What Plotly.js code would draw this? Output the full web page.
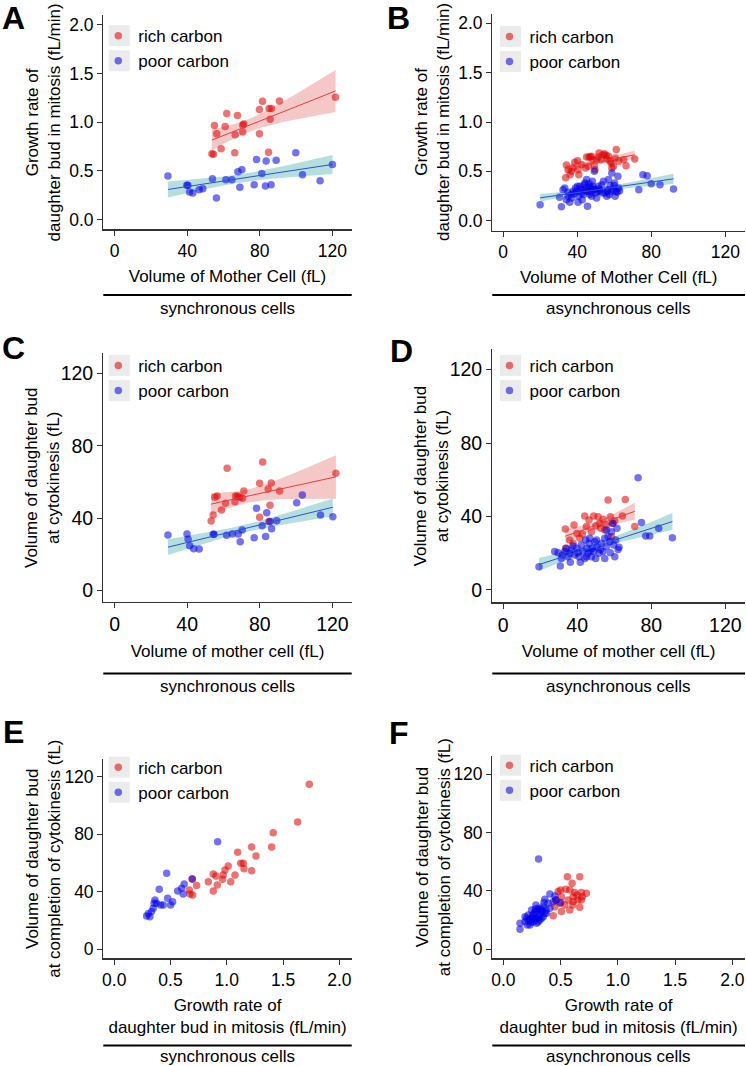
<!DOCTYPE html>
<html><head><meta charset="utf-8">
<script src="https://cdn.plot.ly/plotly-3.0.1.min.js"></script>
<style>html,body{margin:0;padding:0;background:#fff}</style>
</head><body><div id="chart" style="width:746px;height:1066px"></div>
<script>
// ---------------- DATA ----------------
const groupNames = ['rich carbon', 'poor carbon'];
const captions = ['synchronous cells', 'asynchronous cells'];
const volTicks = [0, 40, 80, 120];
const rateTicks = [0, 0.5, 1, 1.5, 2];
const budTicks = [0, 40, 80, 120];

// Panel A: growth rate of bud in mitosis vs mother volume (synchronous)
const aRichVol  = [55.0,56.3,61.8,60.9,67.7,66.4,70.6,71.2,70.6,81.5,79.8,85.1,86.4,85.7,79.8,90.8,53.6,54.5,58.7,66.2,84.8,121.7];
const aRichRate = [0.965,0.88,1.09,0.955,1.067,0.87,0.97,0.98,0.90,1.214,1.13,1.14,1.14,1.03,0.88,1.217,0.675,0.67,0.726,0.685,0.69,1.255];
const aPoorVol  = [29.4,39.8,40.4,41.3,43.1,46.6,48.6,53.9,56.1,61.3,64.6,67.9,69.0,70.1,76.9,78.2,81.1,83.1,83.5,86.2,89.0,99.8,103.5,113.2,120.0];
const aPoorRate = [0.447,0.351,0.351,0.283,0.273,0.307,0.317,0.419,0.222,0.409,0.409,0.491,0.331,0.511,0.358,0.617,0.474,0.344,0.600,0.358,0.610,0.685,0.460,0.399,0.566];

// Panel B: same, asynchronous
const bRichVol  = [33.8,34.2,35.1,36.2,36.9,37.8,38.7,40.2,40.9,40.5,42.4,44.5,45.1,46.0,46.4,47.1,47.8,48.4,49.3,49.6,50.5,51.5,51.8,52.9,53.8,54.7,55.6,56.0,56.9,57.8,58.4,58.7,59.6,60.5,61.1,62.4,65.1,66.4,71.1];
const bRichRate = [0.436,0.564,0.517,0.466,0.50,0.534,0.591,0.608,0.466,0.517,0.568,0.534,0.645,0.551,0.645,0.645,0.652,0.618,0.557,0.517,0.618,0.645,0.686,0.618,0.669,0.679,0.662,0.625,0.652,0.601,0.584,0.534,0.551,0.635,0.72,0.601,0.618,0.557,0.625];
const bPoorVol  = [20.0,30.5,31.5,32.4,33.3,34.2,35.1,36.0,36.9,37.8,38.7,39.6,40.2,40.5,40.9,41.5,42.4,42.7,43.3,43.8,44.2,44.7,45.1,45.6,46.0,46.4,46.9,47.5,47.8,48.2,48.7,49.3,50.0,50.5,51.1,51.5,52.4,53.3,54.2,55.1,56.0,56.5,56.9,57.8,58.4,58.7,59.6,60.2,60.5,60.9,62.0,62.4,62.9,73.3,75.5,77.8,80.0,84.7,92.0,35.1,37.1,39.1,41.8,43.5,45.3,46.5,47.3,48.5,49.6,52.0,53.6,56.2,57.3,59.8,61.6];
const bPoorRate = [0.162,0.236,0.142,0.314,0.331,0.213,0.287,0.186,0.264,0.297,0.274,0.297,0.348,0.186,0.247,0.348,0.280,0.213,0.314,0.365,0.382,0.297,0.416,0.145,0.297,0.348,0.264,0.331,0.247,0.399,0.314,0.500,0.280,0.230,0.297,0.348,0.297,0.365,0.399,0.280,0.247,0.314,0.416,0.355,0.297,0.483,0.314,0.382,0.247,0.297,0.449,0.331,0.304,0.314,0.466,0.456,0.375,0.365,0.321,0.247,0.230,0.331,0.321,0.264,0.341,0.375,0.287,0.348,0.321,0.321,0.280,0.297,0.264,0.355,0.287];

// Panel C: bud volume at cytokinesis vs mother volume (synchronous)
const cRichVol = [53.2,54.3,55.2,56.5,58.9,61.1,62.0,66.3,66.6,67.7,69.0,70.5,71.2,79.9,79.9,81.6,84.6,85.6,85.0,86.3,90.9,121.9];
const cRichBud = [38.3,41.7,51.5,52.2,44.4,48.1,67.5,49.0,52.2,52.2,51.5,50.9,54.9,59.2,40.4,71.0,56.0,47.0,38.0,59.4,54.9,64.7];
const cPoorVol = [29.4,39.9,40.5,41.4,43.6,46.6,54.3,54.8,61.7,64.8,68.1,69.2,70.3,76.9,78.2,81.3,83.2,83.8,85.6,86.5,89.3,100.3,103.4,113.4,120.2];
const cPoorBud = [30.6,31.1,28.2,24.7,23.0,22.8,31.0,31.0,30.4,31.1,31.1,26.9,33.4,29.1,45.4,35.7,29.7,42.9,38.0,34.1,38.5,48.5,52.7,41.7,40.7];

// Panel D: same, asynchronous
const dRichVol = [33.6,36.0,38.3,39.9,41.4,44.1,45.0,46.4,47.7,48.9,50.0,51.3,52.2,52.7,54.0,54.9,56.7,57.9,58.5,59.4,60.3,64.4,66.0,71.1,33.8,37.8,42.8,55.8];
const dRichBud = [33.2,27.2,35.4,30.8,28.1,40.3,34.5,38.1,31.7,40.3,34.8,39.9,36.3,33.6,38.5,32.7,49.0,39.9,29.0,36.3,37.7,40.3,49.3,34.5,22.7,25.4,30.5,35.4];
const dPoorVol = [19.4,29.7,30.9,31.5,33.3,35.1,36.3,36.9,37.8,38.7,39.9,41.0,41.7,42.3,43.2,44.1,44.6,45.3,45.9,46.4,46.8,47.7,48.2,48.9,49.5,50.0,50.7,51.8,53.1,54.0,54.9,55.8,56.7,57.6,58.5,59.0,59.7,60.3,60.8,61.5,62.1,62.6,74.7,72.9,77.0,79.2,84.0,91.4,27.9,32.0,34.2,36.0,40.5,45.0,47.1,50.4,52.5,54.9,57.9,55.8];
const dPoorBud = [12.7,20.3,13.1,17.2,20.9,18.1,15.1,21.8,23.9,19.0,22.7,18.1,15.1,24.5,20.9,17.2,27.2,22.7,20.0,25.4,28.1,18.1,22.7,20.9,26.3,17.2,23.2,20.0,25.4,20.9,28.1,23.6,29.0,26.3,31.7,36.3,24.5,18.1,27.2,33.6,22.1,23.2,36.8,61.1,29.4,29.4,33.6,28.5,20.9,19.0,22.7,20.0,20.3,18.1,21.4,27.2,22.1,17.2,20.3,32.7];

// Panel E: bud volume at completion of cytokinesis vs growth rate (synchronous)
const eRichRate = [1.733,1.630,1.413,1.399,1.221,1.260,1.097,1.013,0.984,1.124,1.147,1.153,1.221,1.073,0.969,0.963,0.880,0.904,0.836,0.916,1.035,0.880,0.732,0.667,0.673,0.697,0.693];
const eRichBud  = [114.8,88.6,81.1,71.2,71.2,64.9,67.5,57.9,55.2,59.8,59.8,56.1,54.7,51.7,51.7,48.7,52.4,51.0,47.0,44.7,47.0,40.6,44.3,41.3,38.5,37.8,48.9];
const ePoorRate = [0.919,0.466,0.400,0.362,0.354,0.347,0.288,0.317,0.332,0.412,0.436,0.475,0.501,0.519,0.564,0.599,0.622,0.613,0.376,0.303,0.693];
const ePoorBud  = [74.9,52.9,41.7,34.3,32.0,28.5,23.2,22.7,26.2,30.8,30.8,35.5,30.8,33.1,40.6,42.4,45.4,38.5,32.0,24.7,48.9];

// Panel F: same, asynchronous
const fRichRate = [0.559,0.667,0.600,0.545,0.499,0.580,0.623,0.643,0.681,0.725,0.609,0.652,0.681,0.565,0.478,0.458,0.493,0.536,0.606,0.667,0.580,0.507,0.435,0.609,0.690,0.507,0.449];
const fRichBud  = [49.7,49.7,45.2,41.1,40.6,40.6,38.8,37.2,38.8,38.4,36.0,33.8,33.8,33.8,39.5,33.8,31.5,30.3,30.3,28.8,26.9,25.8,23.0,32.6,36.0,36.0,29.2];
const fPoorRate = [0.307,0.362,0.406,0.449,0.458,0.145,0.145,0.189,0.209,0.232,0.255,0.276,0.290,0.304,0.319,0.333,0.348,0.371,0.391,0.232,0.261,0.290,0.319,0.348,0.377,0.203,0.246,0.284,0.189,0.217,0.276,0.304,0.333,0.362,0.406,0.435,0.354,0.500,0.220,0.250,0.270,0.300,0.320,0.340,0.260,0.310,0.280,0.240];
const fPoorBud  = [61.8,34.2,37.9,36.5,33.8,17.8,13.7,22.3,16.6,20.5,23.5,25.8,21.2,28.1,23.5,25.8,29.2,26.9,31.5,16.6,18.9,17.8,20.1,22.3,24.7,21.2,26.9,30.3,18.9,23.5,21.2,18.9,21.2,24.7,28.1,32.6,32.0,32.0,19.5,22.0,24.5,26.5,27.5,27.0,20.5,22.5,27.5,18.5];

// ---------------- STYLE / LAYOUT ----------------
const W = 746, H = 1066;
const FONT = 'Liberation Sans, Arial, Helvetica, sans-serif';
const FS = 17;
const RICH_PT = 'rgba(222,0,0,0.55)', POOR_PT = 'rgba(0,0,232,0.55)';
const RICH_LINE = '#e0403f', POOR_LINE = '#2f4fd8';
const RICH_BAND = 'rgba(225,70,70,0.30)', POOR_BAND = 'rgba(60,170,170,0.38)';
const px = v => v / W, py = v => 1 - v / H;

function tq975(df) {
  const z = 1.959964;
  const g1 = (z**3 + z) / 4;
  const g2 = (5*z**5 + 16*z**3 + 3*z) / 96;
  const g3 = (3*z**7 + 19*z**5 + 17*z**3 - 15*z) / 384;
  const g4 = (79*z**9 + 776*z**7 + 1482*z**5 - 1920*z**3 - 945*z) / 92160;
  return z + g1/df + g2/df**2 + g3/df**3 + g4/df**4;
}
function linFit(xs, ys) {
  const n = xs.length;
  const mx = xs.reduce((a,b)=>a+b,0)/n, my = ys.reduce((a,b)=>a+b,0)/n;
  let sxx = 0, sxy = 0;
  for (let i=0;i<n;i++){ sxx += (xs[i]-mx)**2; sxy += (xs[i]-mx)*(ys[i]-my); }
  const b = sxy/sxx, a = my - b*mx;
  let sse = 0; for (let i=0;i<n;i++) sse += (ys[i]-a-b*xs[i])**2;
  const s = Math.sqrt(sse/(n-2)), t = tq975(n-2);
  const lo = Math.min(...xs), hi = Math.max(...xs);
  const gx = [], yh = [], yl = [], yu = [];
  for (let k=0;k<80;k++){
    const x = lo + (hi-lo)*k/79;
    const y = a + b*x, se = s*Math.sqrt(1/n + (x-mx)**2/sxx);
    gx.push(x); yh.push(y); yl.push(y - t*se); yu.push(y + t*se);
  }
  return {gx, yh, yl, yu};
}

const panels = [
  {k:'A', ax:'', xd:[103.3,351.7], yd:[15,229.3], xr:[-6.2,130.6], yr:[-0.1,2.1], xt:volTicks, yt:rateTicks, xf:'', yf:'.1f', tf:17.5,
   xtitle:'Volume of Mother Cell (fL)', ytitle:'Growth rate of<br>daughter bud in mitosis (fL/min)', ytx:43.3,
   data:[[aRichVol,aRichRate],[aPoorVol,aPoorRate]], fit:true, legMid:48.2, letter:[13,18.5], row:0, side:0},
  {k:'B', ax:'2', xd:[492.3,745], yd:[13.5,230.5], xr:[-5.8,130.6], yr:[-0.1,2.1], xt:volTicks, yt:rateTicks, xf:'', yf:'.1f', tf:17.5,
   xtitle:'Volume of Mother Cell (fL)', ytitle:'Growth rate of<br>daughter bud in mitosis (fL/min)', ytx:432,
   data:[[bRichVol,bRichRate],[bPoorVol,bPoorRate]], fit:true, legMid:49, letter:[398,18.5], row:0, side:1},
  {k:'C', ax:'3', xd:[103.3,351.7], yd:[353.3,601.7], xr:[-6.2,130.6], yr:[-6.3,131.1], xt:volTicks, yt:budTicks, xf:'', yf:'', tf:19.5,
   xtitle:'Volume of mother cell (fL)', ytitle:'Volume of daughter bud<br>at cytokinesis (fL)', ytx:42.5,
   data:[[cRichVol,cRichBud],[cPoorVol,cPoorBud]], fit:true, legMid:378, letter:[13,348], row:1, side:0},
  {k:'D', ax:'4', xd:[492.3,745], yd:[349.3,602.3], xr:[-5.8,130.6], yr:[-6.7,131], xt:volTicks, yt:budTicks, xf:'', yf:'', tf:19.5,
   xtitle:'Volume of mother cell (fL)', ytitle:'Volume of daughter bud<br>at cytokinesis (fL)', ytx:431.5,
   data:[[dRichVol,dRichBud],[dPoorVol,dPoorBud]], fit:true, legMid:378, letter:[401,351], row:1, side:1},
  {k:'E', ax:'5', xd:[103.3,351.7], yd:[759.3,958.3], xr:[-0.097,2.11], yr:[-6.3,132.2], xt:rateTicks, yt:budTicks, xf:'.1f', yf:'', tf:17.5,
   xtitle:'Growth rate of<br>daughter bud in mitosis (fL/min)', ytitle:'Volume of daughter bud<br>at completion of cytokinesis (fL)', ytx:44,
   data:[[eRichRate,eRichBud],[ePoorRate,ePoorBud]], fit:false, legMid:779.7, letter:[13,732], row:2, side:0},
  {k:'F', ax:'6', xd:[492.3,745], yd:[756,958.3], xr:[-0.097,2.11], yr:[-6.2,132.4], xt:rateTicks, yt:budTicks, xf:'.1f', yf:'', tf:17.5,
   xtitle:'Growth rate of<br>daughter bud in mitosis (fL/min)', ytitle:'Volume of daughter bud<br>at completion of cytokinesis (fL)', ytx:433,
   data:[[fRichRate,fRichBud],[fPoorRate,fPoorBud]], fit:false, legMid:777.8, letter:[399,733], row:2, side:1}
];
const rowSep = [295, 673.5, 1045.5];
const rowCap = [308.5, 686, 1056.5];

const traces = [], shapes = [], annotations = [];
const layout = {
  width: W, height: H, margin: {l:0, r:0, t:0, b:0},
  paper_bgcolor: '#fff', plot_bgcolor: '#fff',
  font: {family: FONT, size: FS, color: '#000'},
  showlegend: true, hovermode: false
};

panels.forEach((p, i) => {
  const xa = 'x' + p.ax, ya = 'y' + p.ax;
  const legId = i === 0 ? 'legend' : 'legend' + (i + 1);
  const cols = [[RICH_PT, RICH_LINE, RICH_BAND], [POOR_PT, POOR_LINE, POOR_BAND]];
  const fits = p.fit ? p.data.map(d => linFit(d[0], d[1])) : [];
  // confidence bands (linear fit, 95% CI)
  fits.forEach((f, g) => {
    traces.push({type:'scatter', mode:'lines', xaxis:xa, yaxis:ya, showlegend:false,
      x: f.gx.concat(f.gx.slice().reverse()), y: f.yu.concat(f.yl.slice().reverse()),
      fill:'toself', fillcolor: cols[g][2], line:{width:0}, hoverinfo:'skip'});
  });
  // points
  p.data.forEach((d, g) => {
    traces.push({type:'scatter', mode:'markers', xaxis:xa, yaxis:ya, name: groupNames[g], legend: legId,
      x: d[0], y: d[1], marker:{size:7.5, color: cols[g][0], line:{width:0}}});
  });
  // fit lines
  fits.forEach((f, g) => {
    traces.push({type:'scatter', mode:'lines', xaxis:xa, yaxis:ya, showlegend:false,
      x: f.gx, y: f.yh, line:{color: cols[g][1], width:1}, hoverinfo:'skip'});
  });

  const axCommon = {showline:true, linecolor:'#333', linewidth:1.2, showgrid:false, zeroline:false,
    ticks:'outside', ticklen:5, tickwidth:1, tickcolor:'#333', tickfont:{family:FONT, size:p.tf, color:'#000'},
    fixedrange:true};
  layout['xaxis' + p.ax] = Object.assign({}, axCommon, {
    domain:[px(p.xd[0]), px(p.xd[1])], range:p.xr, anchor: ya,
    tickmode:'array', tickvals:p.xt, tickformat:p.xf,
    title:{text:p.xtitle, font:{family:FONT, size:FS, color:'#000'}, standoff:10}});
  layout['yaxis' + p.ax] = Object.assign({}, axCommon, {
    domain:[py(p.yd[1]), py(p.yd[0])], range:p.yr, anchor: xa,
    tickmode:'array', tickvals:p.yt, tickformat:p.yf});

  // y-axis title (placed to match the reference position)
  annotations.push({xref:'paper', yref:'paper', x:px(p.ytx), y:py((p.yd[0]+p.yd[1])/2),
    xanchor:'center', yanchor:'middle', textangle:-90, text:p.ytitle, showarrow:false,
    font:{family:FONT, size:FS, color:'#000'}});

  // legend
  const lx = (p.side ? 489.5 : 98.3), ly = p.legMid - 30.1;
  layout[legId] = {x: px(lx), y: py(ly), xanchor:'left', yanchor:'top', bgcolor:'rgba(0,0,0,0)',
    borderwidth:0, font:{family:FONT, size:FS, color:'#000'}, itemclick:false, itemdoubleclick:false};
  [17.55, 42.65].forEach(off => {
    shapes.push({type:'rect', xref:'paper', yref:'paper', layer:'below',
      x0: px(lx + 10.5), x1: px(lx + 31.5), y0: py(ly + off - 10.5), y1: py(ly + off + 10.5),
      fillcolor:'#ebebeb', line:{width:0}});
  });

  // panel letter
  annotations.push({xref:'paper', yref:'paper', x:px(p.letter[0]), y:py(p.letter[1]), xanchor:'center', yanchor:'middle',
    text:'<b>' + p.k + '</b>', showarrow:false, font:{family:FONT, size:32, color:'#000'}});

  // separator + caption
  shapes.push({type:'line', xref:'paper', yref:'paper', x0:px(p.xd[0]), x1:px(p.xd[1]),
    y0:py(rowSep[p.row]), y1:py(rowSep[p.row]), line:{color:'#000', width:2}});
  annotations.push({xref:'paper', yref:'paper', x:px((p.xd[0]+p.xd[1])/2), y:py(rowCap[p.row]),
    xanchor:'center', yanchor:'middle', text:captions[p.side], showarrow:false,
    font:{family:FONT, size:FS, color:'#000'}});
});
layout.shapes = shapes;
layout.annotations = annotations;

Plotly.newPlot('chart', traces, layout, {displayModeBar:false, staticPlot:true});
</script></body></html>
